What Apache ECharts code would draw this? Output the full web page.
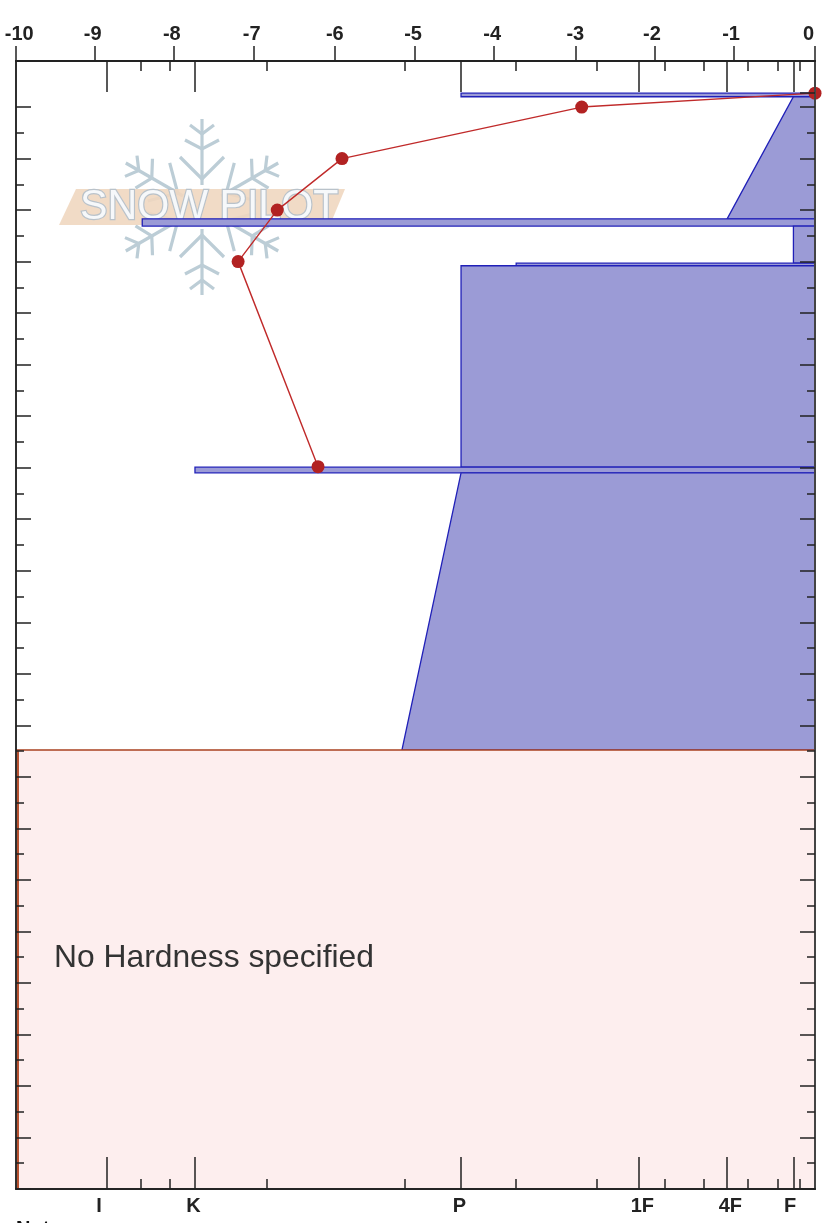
<!DOCTYPE html>
<html><head><meta charset="utf-8">
<style>html,body{margin:0;padding:0;background:#fff}#c{width:832px;height:1223px}</style>
<script src="https://cdn.jsdelivr.net/npm/echarts@6/dist/echarts.min.js"></script>
</head><body><div id="c"></div>
<script>
// Temperature axis ticks and labels
const tempTicks = [-10,-9.01,-8.02,-7.03,-6.01,-5.01,-4.02,-3,-2.01,-1.02,0];
const tempLabelNames = ['-10','-9','-8','-7','-6','-5','-4','-3','-2','-1','0'];
const tempLabelAt = [-9.96,-9.04,-8.05,-7.05,-6.01,-5.03,-4.04,-3.0,-2.04,-1.05,-0.08];
// Hardness scale, placed on the temperature scale
const hardMajor = [-8.87,-7.76,-4.43,-2.21,-1.1,-0.27];
const hardMinor = [-8.44,-8.08,-6.86,-5.14,-3.74,-2.73,-1.88,-1.39,-0.84,-0.46,-0.19];
const hardLabelNames = ['I','K','P','1F','4F','F'];
const hardLabelAt = [-8.96,-7.78,-4.45,-2.16,-1.06,-0.31];
// Depth ticks
const depthMajor = [0,10,20,30,40,50,60,70,80,90,100,110,120,130,140,150,160,170,180,190,200,210];
const depthMinor = [5,15,25,35,45,55,65,75,85,95,105,115,125,135,145,155,165,175,185,195,205];
const depthExtraRight = [212.7];
// Layers: hardness at top, depth at top, hardness at bottom, depth at bottom
const layerHardTop = [-4.43,-0.27,-8.42,-0.27,-3.74,-4.43,-7.76,-4.43];
const layerDepthTop = [212.7,212,188.3,186.9,179.7,179.2,140.1,139];
const layerHardBottom = [-4.43,-1.1,-8.42,-0.27,-3.74,-4.43,-7.76,-5.17];
const layerDepthBottom = [212,188.3,186.9,179.7,179.2,140.1,139,85.2];
// Region without hardness
const noHardTop = 85.2;
const noHardBottom = 0;
const noHardLabel = 'No Hardness specified';
// Temperature profile
const tempValues = [0,-2.92,-5.92,-6.73,-7.22,-6.22];
const tempDepths = [212.7,210,200,190,180,140.2];

const INK = '#222';
const AXIS_Z = 6;
const layerData = layerHardTop.map((h,i)=>[h,layerDepthTop[i],layerHardBottom[i],layerDepthBottom[i]]);
function band(params, api, style){
  const a=api.coord([0,api.value(1)]), b=api.coord([0,api.value(3)]);
  const t=api.coord([api.value(0),api.value(1)]), u=api.coord([api.value(2),api.value(3)]);
  return {type:'polygon',shape:{points:[[t[0],a[1]],[a[0],a[1]],[b[0],b[1]],[u[0],b[1]]]},style};
}
const xCommon = {min:-10,max:0,z:AXIS_Z,splitLine:{show:false},axisLine:{onZero:false,lineStyle:{color:INK,width:1.5}}};
function xAxisOf(position,length,values,inside){
  return Object.assign({},xCommon,{type:'value',position,
    axisTick:{show:true,inside,length,customValues:values,lineStyle:{color:INK,width:1.5}},
    axisLabel:{show:false}});
}
function yAxisOf(position,length,values){
  return {type:'value',position,min:0,max:218.94,z:AXIS_Z,splitLine:{show:false},
    axisLine:{onZero:false,lineStyle:{color:position==='right'?'#444':INK,width:position==='right'?2:1.5}},
    axisTick:{show:true,inside:true,length,customValues:values,lineStyle:{color:INK,width:1.5}},
    axisLabel:{show:false}};
}
const armPaths = [
  [[0,-22],[0,-88]],
  [[-22,-50],[0,-28],[22,-50]],
  [[-17,-67],[0,-58],[17,-67]],
  [[-12,-82],[0,-73],[12,-82]]
];
const flake = [0,60,120,180,240,300].map(deg=>({
  type:'group',x:202,y:207,rotation:deg*Math.PI/180,z:0,
  children:armPaths.map(p=>({type:'polyline',z:0,shape:{points:p},style:{stroke:'#bccdd6',lineWidth:3.2,fill:null}}))
}));
const labelFont = {color:'#222',fontFamily:'Liberation Sans',fontWeight:'bold',fontSize:20};
const chart = echarts.init(document.getElementById('c'),null,{renderer:'canvas'});
chart.setOption({
  animation:false,
  backgroundColor:'#fff',
  grid:{left:16,right:17,top:61,bottom:34},
  xAxis:[
    xAxisOf('top',15,tempTicks,false),
    xAxisOf('top',31,hardMajor,true),
    xAxisOf('top',10,hardMinor,true),
    xAxisOf('bottom',32,hardMajor,true),
    xAxisOf('bottom',10,hardMinor,true),
    Object.assign({},xCommon,{type:'value',position:'bottom',axisTick:{show:false},
      axisLabel:Object.assign({show:true,customValues:hardLabelAt,margin:7,
        formatter:v=>hardLabelNames[hardLabelAt.indexOf(v)]},labelFont)}),
    Object.assign({},xCommon,{type:'value',position:'top',axisTick:{show:false},
      axisLabel:Object.assign({show:true,customValues:tempLabelAt,margin:17,
        formatter:v=>tempLabelNames[tempLabelAt.indexOf(v)]},labelFont)})
  ],
  yAxis:[
    yAxisOf('left',15,depthMajor),
    yAxisOf('left',8,depthMinor),
    yAxisOf('right',15,depthMajor.concat(depthExtraRight)),
    yAxisOf('right',8,depthMinor)
  ],
  graphic:{elements:[
    ...flake,
    {type:'polygon',z:1,shape:{points:[[59,225],[76,189],[345,189],[330,225]]},style:{fill:'#efd7c0',opacity:.9}},
    {type:'text',z:1,x:80,y:186,scaleX:.98,scaleY:1,style:{text:'SNOW PILOT',font:'42px "Liberation Sans"',fill:'#f6f8fa',stroke:'#b9c2ca',lineWidth:2.4}},
    {type:'text',x:16,y:1219,style:{text:'Notes',font:'bold 20px "Liberation Sans"',fill:'#111'}}
  ]},
  series:[
    {type:'custom',xAxisIndex:0,yAxisIndex:0,z:2,clip:false,data:layerData,
      renderItem:(p,api)=>band(p,api,{fill:'#9b9bd6',stroke:'#2020b8',lineWidth:1.3})},
    {type:'custom',xAxisIndex:0,yAxisIndex:0,z:2,clip:false,data:[[noHardTop,noHardBottom]],
      renderItem:(p,api)=>{
        const a=api.coord([-10,api.value(0)]), b=api.coord([0,api.value(1)]);
        return {type:'group',children:[
          {type:'rect',shape:{x:a[0]+1,y:a[1],width:b[0]-a[0]-1,height:b[1]-a[1]},style:{fill:'#fdeeee',stroke:'none'}},
          {type:'line',shape:{x1:a[0],y1:a[1],x2:b[0],y2:a[1]},style:{stroke:'#a8401f',lineWidth:1.4}},
          {type:'line',shape:{x1:a[0]+2,y1:a[1],x2:a[0]+2,y2:b[1]},style:{stroke:'#b5502f',lineWidth:2}},
          {type:'text',x:54,y:958,style:{text:noHardLabel,font:'31.8px "Liberation Sans"',fill:'#333',verticalAlign:'middle'}}
        ]};
      }},
    {type:'line',xAxisIndex:0,yAxisIndex:0,z:4,data:tempValues.map((v,i)=>[v,tempDepths[i]]),
      symbol:'circle',symbolSize:13,clip:false,
      lineStyle:{color:'#c02a2a',width:1.4},itemStyle:{color:'#b22222'}}
  ]
});
</script></body></html>
